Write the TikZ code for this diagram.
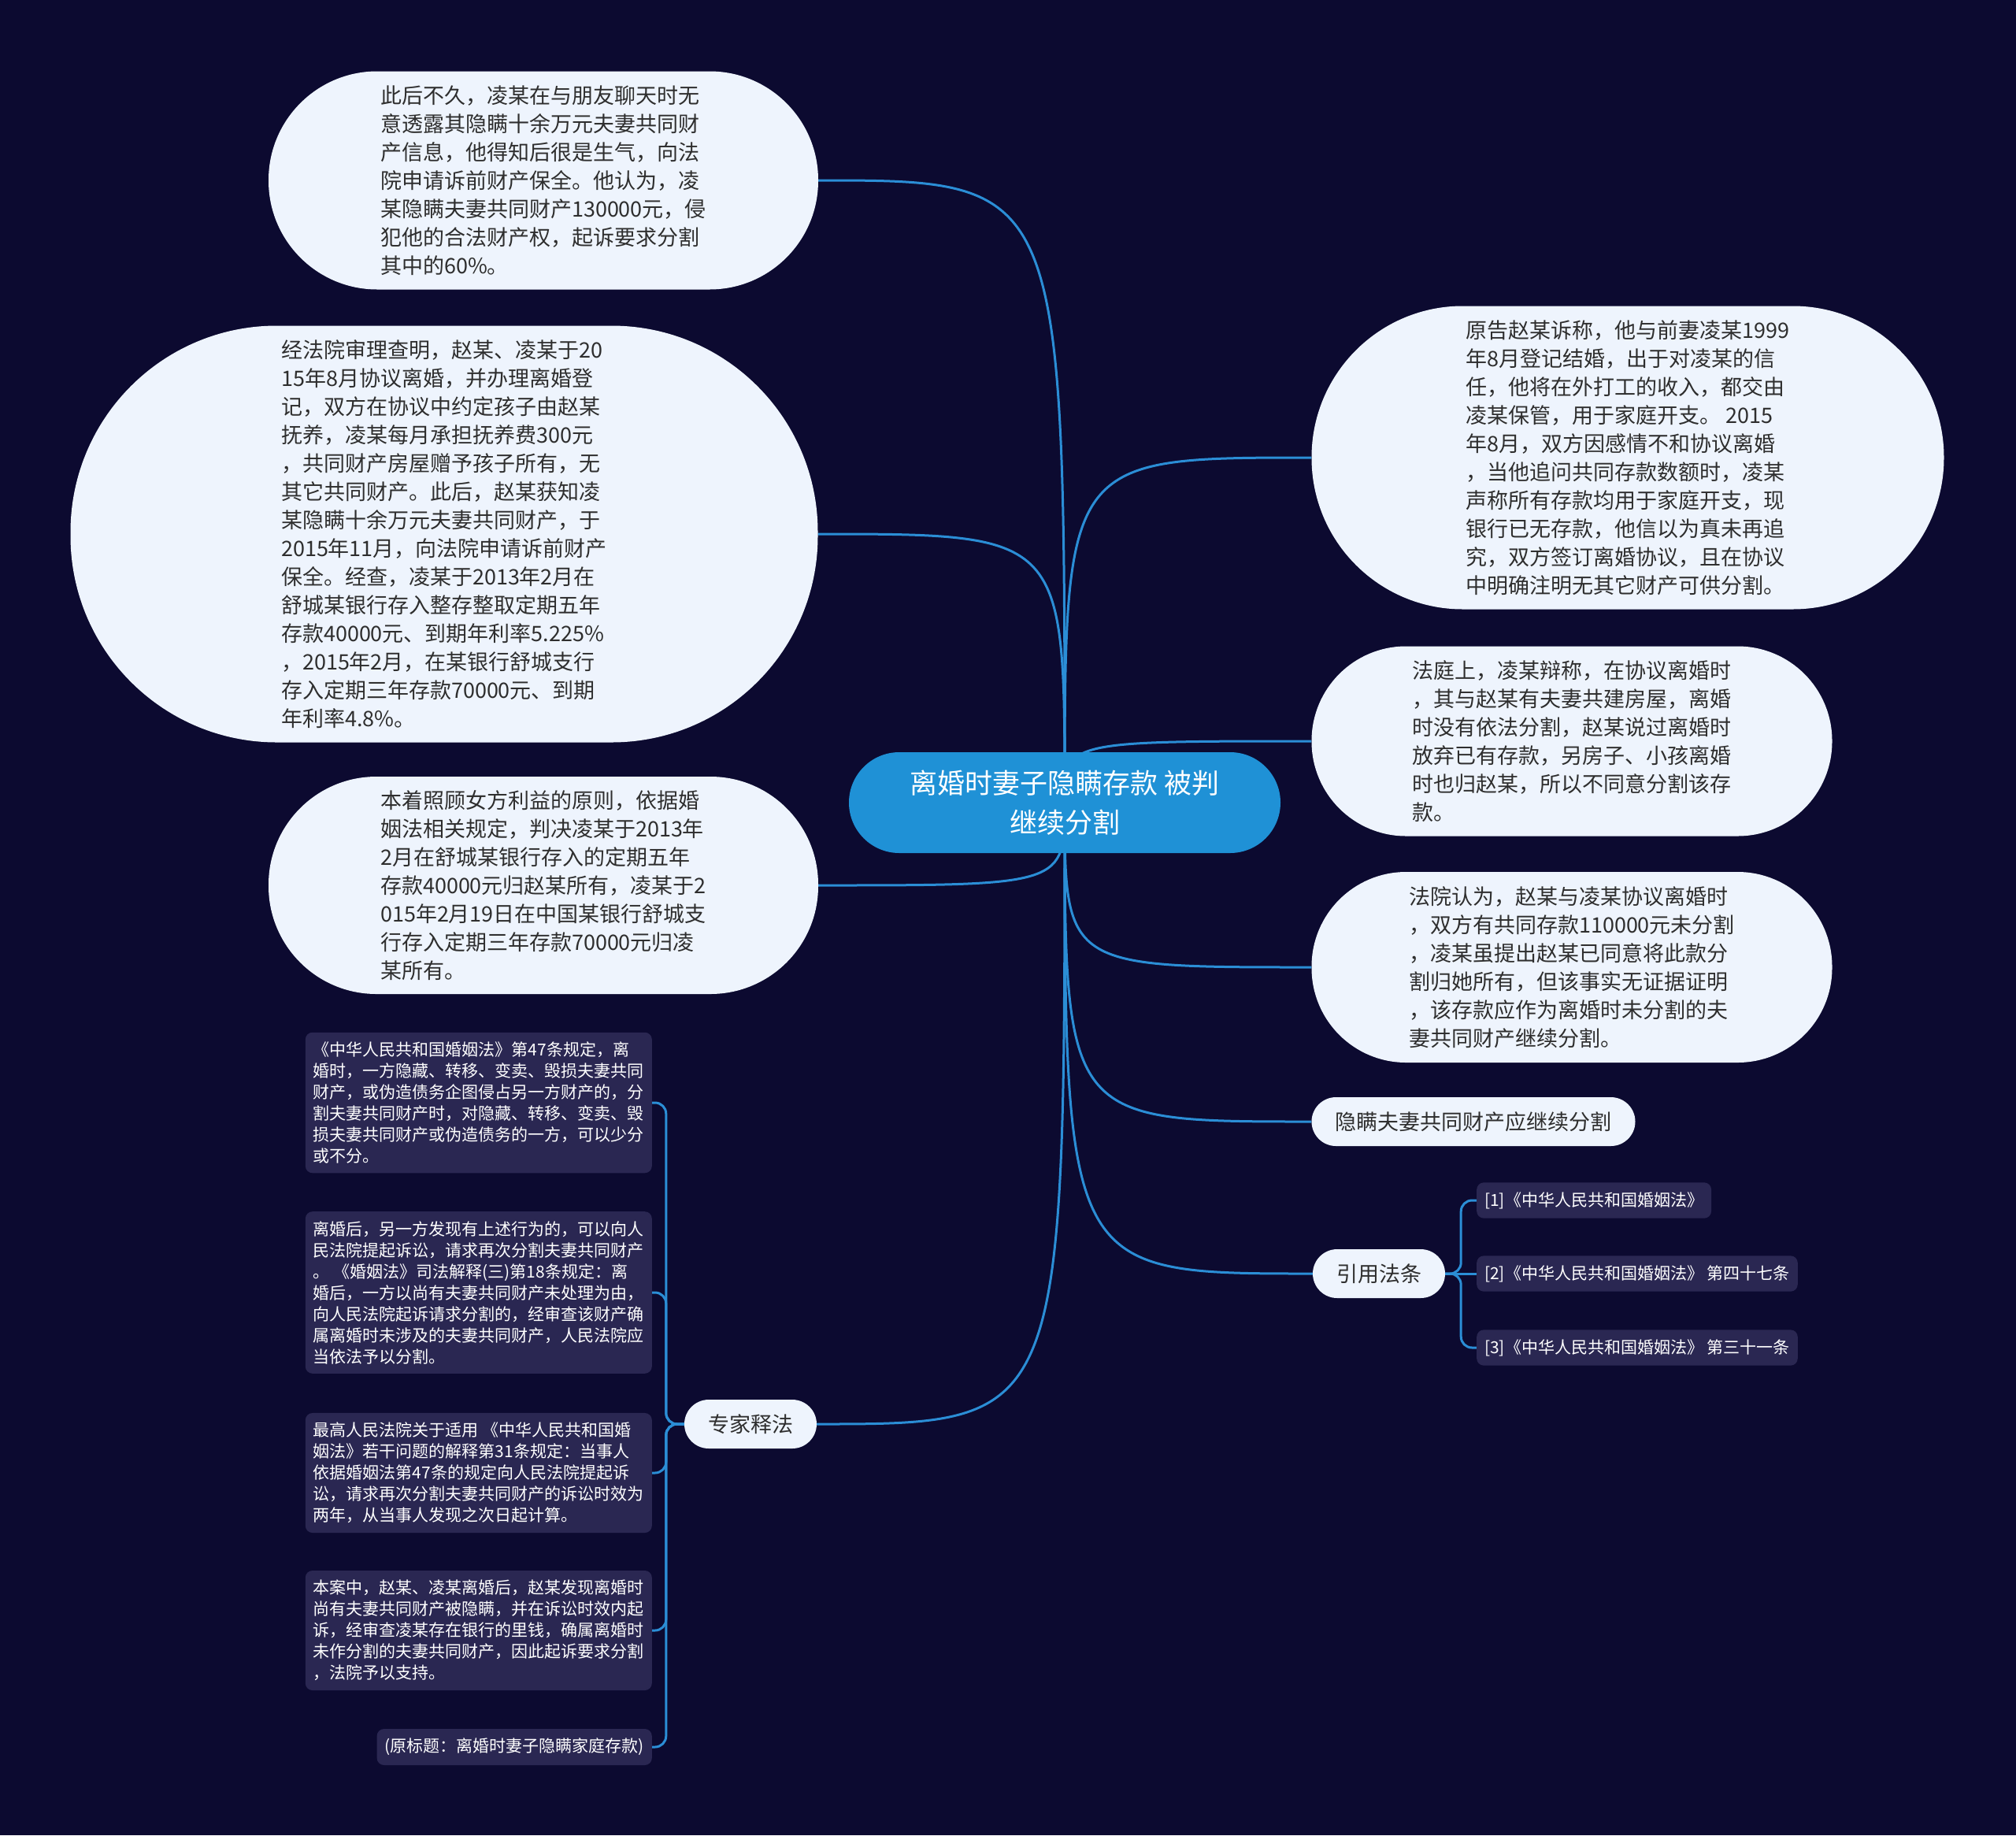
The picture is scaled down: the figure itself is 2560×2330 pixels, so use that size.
\documentclass[tikz,border=0pt]{standalone}
\usepackage{fontspec}
\setmainfont{Noto Sans CJK SC}
\usetikzlibrary{backgrounds}

\definecolor{bgnavy}{HTML}{0C0A30}
\definecolor{rootblue}{HTML}{1F91D6}
\definecolor{linkblue}{HTML}{2B8ED6}
\definecolor{paleblue}{HTML}{EEF4FD}
\definecolor{darkcard}{HTML}{2A2752}
\definecolor{inktext}{HTML}{2E2E2E}

\tikzset{
 bubble/.style={fill=paleblue,text=inktext,align=left,font=\fontsize{27}{36}\selectfont},
 pill/.style={fill=paleblue,text=inktext,font=\fontsize{27}{36}\selectfont,minimum height=62pt,inner xsep=30pt,rounded corners=31pt},
 card/.style={fill=darkcard,text=white,align=left,rounded corners=9pt,inner xsep=10pt,inner ysep=12pt,font=\fontsize{21}{27}\selectfont},
 link/.style={draw=linkblue,line width=3pt},
}

\begin{document}
\begin{tikzpicture}[x=1pt,y=-1pt]
 \useasboundingbox (0,0) rectangle (2560,2330);

 \node [fill=rootblue,text=white,align=center,font=\fontsize{35}{50}\selectfont,minimum width=548pt,minimum height=128pt,rounded corners=64pt] (root) at (1352,1019) {离婚时妻子隐瞒存款 被判\\继续分割};

 % left side
 \node [bubble,minimum width=698pt,minimum height=277pt,rounded corners=138pt] (caseA) at (690,229) {此后不久，凌某在与朋友聊天时无\\
意透露其隐瞒十余万元夫妻共同财\\
产信息，他得知后很是生气，向法\\
院申请诉前财产保全。他认为，凌\\
某隐瞒夫妻共同财产130000元，侵\\
犯他的合法财产权，起诉要求分割\\
其中的60\%。};
 \node [bubble,minimum width=949pt,minimum height=529pt,rounded corners=262pt] (caseB) at (564,678) {经法院审理查明，赵某、凌某于20\\
15年8月协议离婚，并办理离婚登\\
记，双方在协议中约定孩子由赵某\\
抚养，凌某每月承担抚养费300元\\
，共同财产房屋赠予孩子所有，无\\
其它共同财产。此后，赵某获知凌\\
某隐瞒十余万元夫妻共同财产，于\\
2015年11月，向法院申请诉前财产\\
保全。经查，凌某于2013年2月在\\
舒城某银行存入整存整取定期五年\\
存款40000元、到期年利率5.225\%\\
，2015年2月，在某银行舒城支行\\
存入定期三年存款70000元、到期\\
年利率4.8\%。};
 \node [bubble,minimum width=698pt,minimum height=276pt,rounded corners=137pt] (caseC) at (690,1124) {本着照顾女方利益的原则，依据婚\\
姻法相关规定，判决凌某于2013年\\
2月在舒城某银行存入的定期五年\\
存款40000元归赵某所有，凌某于2\\
015年2月19日在中国某银行舒城支\\
行存入定期三年存款70000元归凌\\
某所有。};
 \node [pill] (expert) at (953,1808) {专家释法};

 \node [card,anchor=east,minimum width=439pt] (note1) at (828,1400) {《中华人民共和国婚姻法》第47条规定，离\\
婚时，一方隐藏、转移、变卖、毁损夫妻共同\\
财产，或伪造债务企图侵占另一方财产的，分\\
割夫妻共同财产时，对隐藏、转移、变卖、毁\\
损夫妻共同财产或伪造债务的一方，可以少分\\
或不分。};
 \node [card,anchor=east,minimum width=439pt] (note2) at (828,1641) {离婚后，另一方发现有上述行为的，可以向人\\
民法院提起诉讼，请求再次分割夫妻共同财产\\
。 《婚姻法》司法解释(三)第18条规定：离\\
婚后，一方以尚有夫妻共同财产未处理为由，\\
向人民法院起诉请求分割的，经审查该财产确\\
属离婚时未涉及的夫妻共同财产，人民法院应\\
当依法予以分割。};
 \node [card,anchor=east,minimum width=439pt] (note3) at (828,1870) {最高人民法院关于适用 《中华人民共和国婚\\
姻法》若干问题的解释第31条规定：当事人\\
依据婚姻法第47条的规定向人民法院提起诉\\
讼，请求再次分割夫妻共同财产的诉讼时效为\\
两年，从当事人发现之次日起计算。};
 \node [card,anchor=east,minimum width=439pt] (note4) at (828,2070) {本案中，赵某、凌某离婚后，赵某发现离婚时\\
尚有夫妻共同财产被隐瞒，并在诉讼时效内起\\
诉，经审查凌某存在银行的里钱，确属离婚时\\
未作分割的夫妻共同财产，因此起诉要求分割\\
，法院予以支持。};
 \node [card,anchor=east] (note5) at (828,2218) {(原标题：离婚时妻子隐瞒家庭存款)};

 % right side
 \node [bubble,minimum width=803pt,minimum height=385pt,rounded corners=192pt] (caseD) at (2067,581) {原告赵某诉称，他与前妻凌某1999\\
年8月登记结婚，出于对凌某的信\\
任，他将在外打工的收入，都交由\\
凌某保管，用于家庭开支。 2015\\
年8月，双方因感情不和协议离婚\\
，当他追问共同存款数额时，凌某\\
声称所有存款均用于家庭开支，现\\
银行已无存款，他信以为真未再追\\
究，双方签订离婚协议，且在协议\\
中明确注明无其它财产可供分割。};
 \node [bubble,minimum width=661pt,minimum height=241pt,rounded corners=120pt] (caseE) at (1996,941) {法庭上，凌某辩称，在协议离婚时\\
，其与赵某有夫妻共建房屋，离婚\\
时没有依法分割，赵某说过离婚时\\
放弃已有存款，另房子、小孩离婚\\
时也归赵某，所以不同意分割该存\\
款。};
 \node [bubble,minimum width=661pt,minimum height=242pt,rounded corners=120pt] (caseF) at (1996,1228) {法院认为，赵某与凌某协议离婚时\\
，双方有共同存款110000元未分割\\
，凌某虽提出赵某已同意将此款分\\
割归她所有，但该事实无证据证明\\
，该存款应作为离婚时未分割的夫\\
妻共同财产继续分割。};
 \node [pill] (hide) at (1871,1424) {隐瞒夫妻共同财产应继续分割};
 \node [pill] (cite) at (1751,1617) {引用法条};

 \node [card,anchor=west] (law1) at (1875,1524) {[1]《中华人民共和国婚姻法》};
 \node [card,anchor=west] (law2) at (1875,1617) {[2]《中华人民共和国婚姻法》 第四十七条};
 \node [card,anchor=west] (law3) at (1875,1711) {[3]《中华人民共和国婚姻法》 第三十一条};

 \begin{scope}[on background layer]
  \fill [bgnavy] (0,0) rectangle (2560,2330);
  \foreach \leaf in {caseA,caseB,caseC,expert}
   \draw [link] (root.center) .. controls (root.center |- \leaf.east) .. (\leaf.east);
  \foreach \leaf in {caseD,caseE,caseF,hide,cite}
   \draw [link] (root.center) .. controls (root.center |- \leaf.west) .. (\leaf.west);
  \foreach \law in {law1,law3}
   \draw [link,rounded corners=14pt] (cite.east) -- ([xshift=20pt]cite.east) |- (\law.west);
  \draw [link] (cite.east) -- (law2.west);
  \foreach \note in {note1,note2,note3,note4,note5}
   \draw [link,rounded corners=14pt] (expert.west) -- ([xshift=-23pt]expert.west) |- (\note.east);
 \end{scope}
\end{tikzpicture}
\end{document}
